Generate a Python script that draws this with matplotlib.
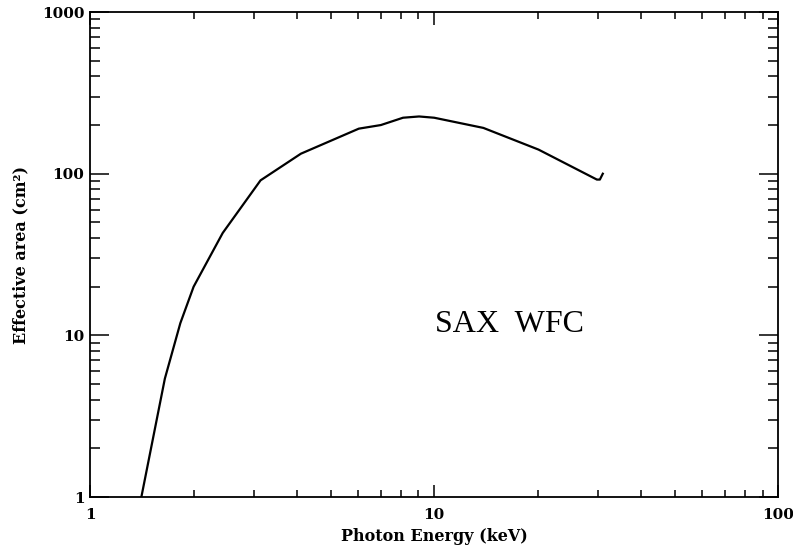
import matplotlib.pyplot as plt
from matplotlib.ticker import LogLocator, FixedLocator, NullFormatter

plt.rcParams['font.family'] = ['DejaVu Serif']

energy = [1.41, 1.65, 1.83, 2.0, 2.43, 3.13, 4.1, 6.04, 7.0, 8.12, 9.04, 10.0, 13.9, 20.1, 29.7, 30.3, 30.9]
area = [1.0, 5.4, 11.9, 20.0, 43.0, 91.0, 133.0, 190.0, 200.0, 222.0, 226.0, 222.0, 192.0, 141.0, 92.0, 92.0, 100.0]

x_ticks = [1, 10, 100]
x_labels = ["1", "10", "100"]
y_ticks = [1, 10, 100, 1000]
y_labels = ["1", "10", "100", "1000"]

fig = plt.figure(figsize=(7.93, 5.48), dpi=100)
ax = fig.add_axes([0.1135, 0.093, 0.868, 0.885])
ax.plot(energy, area, color="black", lw=1.6)
ax.set_xscale("log")
ax.set_yscale("log")
ax.set_xlim(1, 100)
ax.set_ylim(1, 1000)

ax.xaxis.set_major_locator(FixedLocator(x_ticks))
ax.set_xticklabels(x_labels)
ax.yaxis.set_major_locator(FixedLocator(y_ticks))
ax.set_yticklabels(y_labels)
for a in (ax.xaxis, ax.yaxis):
    a.set_minor_locator(LogLocator(base=10, subs=range(2, 10)))
    a.set_minor_formatter(NullFormatter())

ax.tick_params(which="both", direction="in", top=True, right=True, width=1.1, labelsize=11)
ax.tick_params(axis="x", which="major", length=9, pad=8)
ax.tick_params(axis="x", which="minor", length=5)
ax.tick_params(axis="y", which="major", length=14, pad=4)
ax.tick_params(axis="y", which="minor", length=7)
for lab in ax.get_xticklabels() + ax.get_yticklabels():
    lab.set_fontweight("bold")
for s in ax.spines.values():
    s.set_linewidth(1.3)

ax.set_xlabel("Photon Energy (keV)", fontsize=11.5, fontweight="bold", labelpad=4)
ax.set_ylabel("Effective area (cm²)", fontsize=11.5, fontweight="bold", labelpad=9)
ax.text(0.61, 0.355, "SAX  WFC", transform=ax.transAxes, fontsize=23,
        family="Liberation Serif", ha="center", va="center")

fig.savefig("out.png", dpi=100)
